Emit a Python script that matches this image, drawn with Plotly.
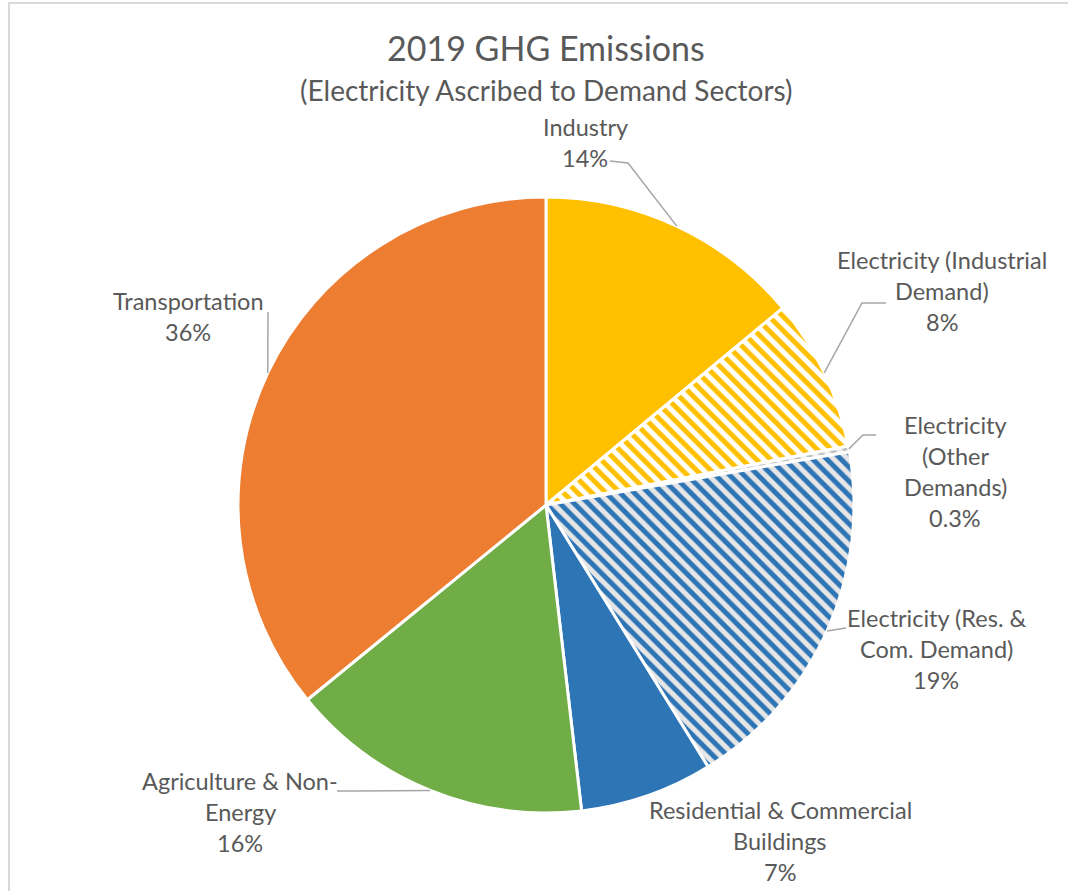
import math
import plotly.graph_objects as go

# --- data -------------------------------------------------------------
sectors = [
    "Industry",
    "Electricity (Industrial Demand)",
    "Electricity (Other Demands)",
    "Electricity (Res. & Com. Demand)",
    "Residential & Commercial Buildings",
    "Agriculture & Non-Energy",
    "Transportation",
]
shares = [14, 8, 0.3, 19, 7, 16, 36]  # percent of 2019 GHG emissions
wrapped_names = [
    ["Industry"],
    ["Electricity (Industrial", "Demand)"],
    ["Electricity", "(Other", "Demands)"],
    ["Electricity (Res. &", "Com. Demand)"],
    ["Residential & Commercial", "Buildings"],
    ["Agriculture & Non-", "Energy"],
    ["Transportation"],
]

# --- styling ------------------------------------------------------------
W, H = 1068, 891
CX, CY, R = 546, 505, 308          # pie centre / radius in pixels
FONT = "Lato"
TXT = "#595959"
LEADER = "#A6A6A6"

solid = ["#FFC000", "#FFFFFF", "#E7E6E6", "#E7E6E6", "#2E75B6", "#70AD47", "#ED7D31"]
hatch_shape = ["", "\\", "\\", "\\", "", "", ""]
hatch_fg = ["#FFC000", "#FFC000", "#BFBFBF", "#2E75B6", "#2E75B6", "#70AD47", "#ED7D31"]
hatch_bg = ["#FFC000", "#FFFFFF", "#F2F2F2", "#E7E6E6", "#2E75B6", "#70AD47", "#ED7D31"]

# label block: (centre x, first-line y) in pixels, and leader elbow points
label_pos = [(585, 127), (942, 260), (955, 425), (936, 618), (780, 810), (240, 781), (188, 301)]
leader_start = [(610, 161), (886, 303), (876, 435), (846, 628), None, (337, 791), (268, 312)]
leader_elbow = [(628, 163), (862, 303), (863, 435), (846, 628), None, (358, 791), (268, 312)]
LINE_H = 31
LABEL_SIZE = 23.5


def px(x):
    return x / W


def py(y):
    return 1 - y / H


fig = go.Figure(
    go.Pie(
        labels=sectors,
        values=shares,
        sort=False,
        direction="clockwise",
        rotation=0,
        textinfo="none",
        hoverinfo="label+percent",
        showlegend=False,
        marker=dict(
            colors=solid,
            line=dict(color="#FFFFFF", width=3),
            pattern=dict(
                shape=hatch_shape,
                fgcolor=hatch_fg,
                bgcolor=hatch_bg,
                fillmode="replace",
                size=10,
                solidity=0.5,
            ),
        ),
        domain=dict(x=[px(CX - R), px(CX + R)], y=[py(CY + R), py(CY - R)]),
    )
)

annotations = []
shapes = []

# outer frame of the chart area
shapes.append(dict(type="rect", xref="paper", yref="paper",
                   x0=px(9), x1=px(W + 20), y0=py(H + 20), y1=py(3),
                   line=dict(color="#D9D9D9", width=2), fillcolor="rgba(0,0,0,0)", layer="below"))

total = sum(shares)
cum = 0.0
for i, v in enumerate(shares):
    mid = (cum + v / 2) / total * 2 * math.pi
    cum += v
    lines = wrapped_names[i] + [f"{v:g}%"]
    lx, ly = label_pos[i]
    for k, t in enumerate(lines):
        annotations.append(dict(
            text=t, x=px(lx), y=py(ly + k * LINE_H), xref="paper", yref="paper",
            xanchor="center", yanchor="middle", showarrow=False,
            font=dict(family=FONT, size=LABEL_SIZE, color=TXT),
        ))
    if leader_start[i] is not None:
        ex = CX + R * math.sin(mid)
        ey = CY - R * math.cos(mid)
        sx, sy = leader_start[i]
        bx, by = leader_elbow[i]
        path = f"M {px(sx)},{py(sy)} L {px(bx)},{py(by)} L {px(ex)},{py(ey)}"
        shapes.append(dict(type="path", xref="paper", yref="paper", path=path,
                           line=dict(color=LEADER, width=1.5)))

annotations.append(dict(text="2019 GHG Emissions", x=px(546), y=py(48), xref="paper", yref="paper",
                        xanchor="center", yanchor="middle", showarrow=False,
                        font=dict(family=FONT, size=34, color=TXT)))
annotations.append(dict(text="(Electricity Ascribed to Demand Sectors)", x=px(546), y=py(90),
                        xref="paper", yref="paper", xanchor="center", yanchor="middle", showarrow=False,
                        font=dict(family=FONT, size=28, color=TXT)))

fig.update_layout(
    width=W, height=H,
    margin=dict(l=0, r=0, t=0, b=0),
    paper_bgcolor="#FFFFFF",
    annotations=annotations,
    shapes=shapes,
)

fig.write_html("out.html")
